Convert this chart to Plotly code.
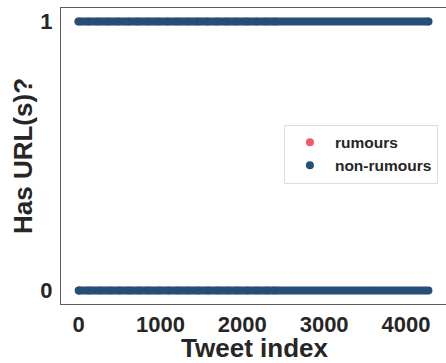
import plotly.graph_objects as go

nonrumour_url_idx = [
    0, 30, 60, 90, 120, 150, 180, 210, 240, 270, 300, 330, 360, 390, 420, 450, 480, 510, 540, 570,
    600, 630, 660, 690, 720, 750, 780, 810, 840, 870, 900, 930, 960, 990, 1020, 1050, 1080, 1110,
    1140, 1170, 1200, 1230, 1260, 1290, 1320, 1350, 1380, 1410, 1440, 1470, 1500, 1530, 1560, 1590,
    1620, 1650, 1680, 1710, 1740, 1770, 1800, 1830, 1860, 1890, 1920, 1950, 1980, 2010, 2040, 2070,
    2100, 2130, 2160, 2190, 2220, 2250, 2280, 2310, 2340, 2370, 2400, 2430, 2460, 2490, 2520, 2550,
    2580, 2610, 2640, 2670, 2700, 2730, 2760, 2790, 2820, 2850, 2880, 2910, 2940, 2970, 3000, 3030,
    3060, 3090, 3120, 3150, 3180, 3210, 3240, 3270, 3300, 3330, 3360, 3390, 3420, 3450, 3480, 3510,
    3540, 3570, 3600, 3630, 3660, 3690, 3720, 3750, 3780, 3810, 3840, 3870, 3900, 3930, 3960, 3990,
    4020, 4050, 4080, 4110, 4140, 4170, 4200, 4230, 4260, 4275]
nonrumour_nourl_idx = [
    2, 15, 45, 75, 105, 135, 165, 195, 225, 255, 285, 315, 345, 375, 405, 435, 465, 495, 525, 555,
    585, 615, 645, 675, 705, 735, 765, 795, 825, 855, 885, 915, 945, 975, 1005, 1035, 1065, 1095,
    1125, 1155, 1185, 1215, 1245, 1275, 1305, 1335, 1365, 1395, 1425, 1455, 1485, 1515, 1545, 1575,
    1605, 1635, 1665, 1695, 1725, 1755, 1785, 1815, 1845, 1875, 1905, 1935, 1965, 1995, 2025, 2055,
    2085, 2115, 2145, 2175, 2205, 2235, 2265, 2295, 2325, 2355, 2385, 2415, 2445, 2475, 2505, 2535,
    2565, 2595, 2625, 2655, 2685, 2715, 2745, 2775, 2805, 2835, 2865, 2895, 2925, 2955, 2985, 3015,
    3045, 3075, 3105, 3135, 3165, 3195, 3225, 3255, 3285, 3315, 3345, 3375, 3405, 3435, 3465, 3495,
    3525, 3555, 3585, 3615, 3645, 3675, 3705, 3735, 3765, 3795, 3825, 3855, 3885, 3915, 3945, 3975,
    4005, 4035, 4065, 4095, 4125, 4155, 4185, 4215, 4245, 4274]
rumour_url_idx = [0, 120, 240, 370, 480, 610, 720, 850, 970, 1090, 1210, 1330, 1450, 1570, 1690,
                  1810, 1930, 2050, 2170, 2290, 2400]
rumour_nourl_idx = [10, 130, 260, 380, 500, 620, 740, 860, 980, 1100, 1220, 1340, 1460, 1580,
                    1700, 1820, 1940, 2060, 2180, 2300, 2395]

y_tick_vals = [0, 1]
x_tick_vals = [0, 1000, 2000, 3000, 4000]

RED = "#f25a6c"
BLUE = "#264f78"
FONT = "Liberation Sans"
TXT = "#262626"

fig = go.Figure()
fig.add_trace(go.Scatter(
    x=rumour_url_idx + rumour_nourl_idx,
    y=[1] * len(rumour_url_idx) + [0] * len(rumour_nourl_idx),
    mode="markers", name="rumours",
    marker=dict(color=RED, size=8, line=dict(width=0)),
))
fig.add_trace(go.Scatter(
    x=nonrumour_url_idx + nonrumour_nourl_idx,
    y=[1] * len(nonrumour_url_idx) + [0] * len(nonrumour_nourl_idx),
    mode="markers", name="non-rumours",
    marker=dict(color=BLUE, size=8, line=dict(width=0)),
))


def axis_style():
    return dict(
        showgrid=False, zeroline=False, showline=True, mirror=True,
        linecolor="#5a5a5a", linewidth=1.2, ticks="", automargin=False,
        tickfont=dict(family=FONT, size=22, color=TXT, weight="bold"),
    )


# the right spine of the reference sits just outside the visible window
fig.update_layout(
    width=448, height=363,
    margin=dict(l=61, r=0, t=8, b=59),
    paper_bgcolor="white", plot_bgcolor="white",
    font=dict(family=FONT, color=TXT),
    showlegend=True,
    legend=dict(
        x=0.576, y=0.606, xanchor="left", yanchor="top",
        bgcolor="white", bordercolor="#dcdcdc", borderwidth=1,
        font=dict(family=FONT, size=15.5, color=TXT, weight="bold"),
        traceorder="normal", itemwidth=40,
    ),
    xaxis=dict(
        range=[-214, 4513], tickvals=x_tick_vals, ticklabelstandoff=0,
        title=dict(text="Tweet index", standoff=0,
                   font=dict(family=FONT, size=26, color=TXT, weight="bold")),
        **axis_style(),
    ),
    yaxis=dict(
        range=[-0.05, 1.05], tickvals=y_tick_vals, ticklabelstandoff=3,
        title=dict(text="Has URL(s)?", standoff=0,
                   font=dict(family=FONT, size=26, color=TXT, weight="bold")),
        **axis_style(),
    ),
)

fig.write_html("out.html", config={"displayModeBar": False},
               post_script="document.body.style.margin='0';"
                           "document.body.style.overflow='hidden';")
